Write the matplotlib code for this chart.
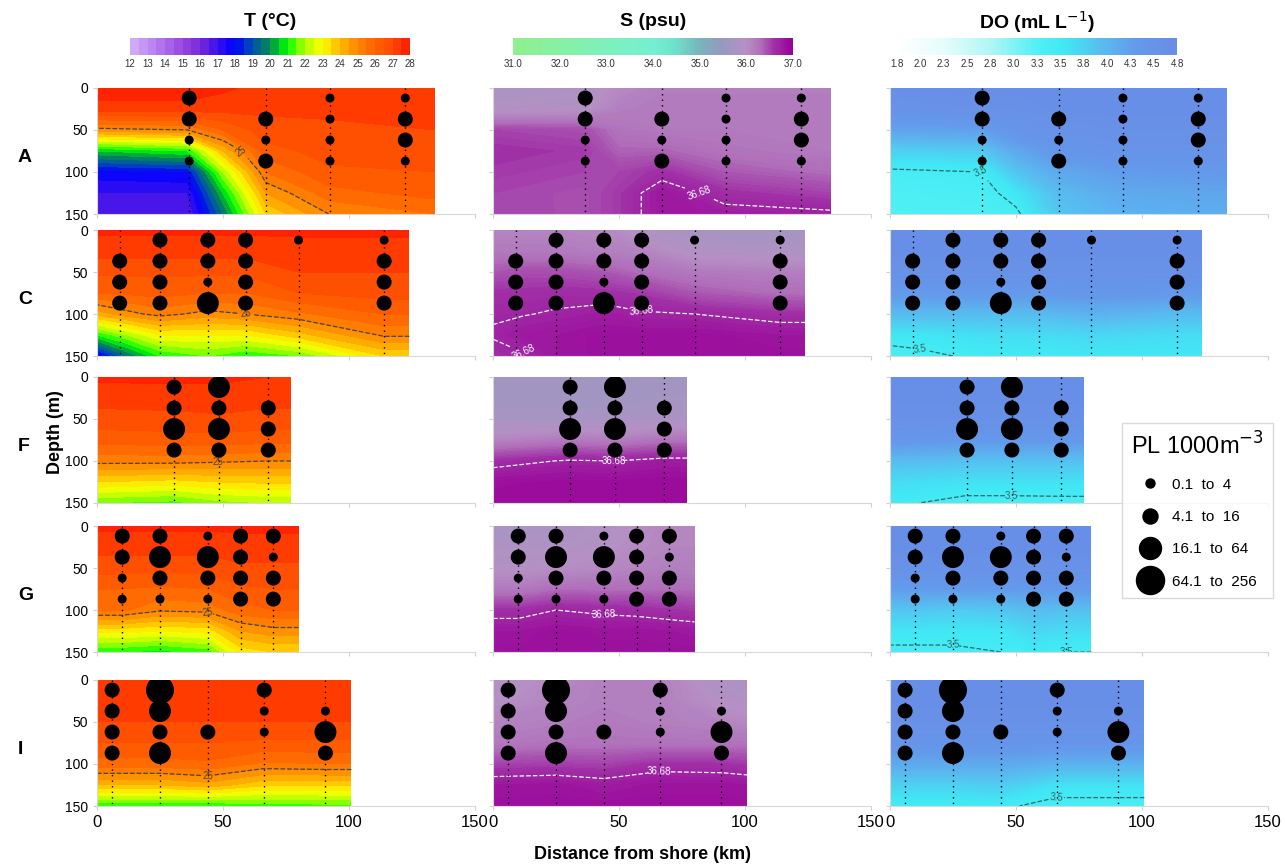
import numpy as np
import matplotlib.pyplot as plt
from matplotlib.colors import LinearSegmentedColormap
from matplotlib.lines import Line2D
from matplotlib.patches import Rectangle

plt.rcParams['font.family'] = ['Liberation Sans', 'DejaVu Sans']

# depth levels (m) of the gridded fields, and of the plankton samples
grid_depth = [0, 25, 50, 75, 100, 125, 150]
pl_depth = [12, 37, 62, 87]
pl_labels = ['0.1  to  4', '4.1  to  16', '16.1  to  64', '64.1  to  256']

# ---- transect A ----
nodes_A = [0, 36, 50, 67, 92, 134]
T_A = [[27.8, 27.3, 24.8, 20.5, 17.8, 17.0, 16.5],
       [27.8, 27.3, 25.0, 21.0, 18.0, 17.0, 16.5],
       [27.6, 27.2, 26.0, 24.0, 22.0, 20.5, 19.5],
       [27.3, 27.1, 26.8, 26.3, 25.5, 24.5, 23.5],
       [27.3, 27.1, 26.9, 26.7, 26.4, 25.8, 25.0],
       [27.3, 27.1, 27.0, 26.8, 26.5, 26.2, 25.5]]
S_A = [[35.8, 35.9, 36.5, 36.6, 36.55, 36.5, 36.5],
       [35.85, 35.95, 36.45, 36.55, 36.5, 36.45, 36.45],
       [36.05, 36.15, 36.25, 36.35, 36.5, 36.55, 36.55],
       [36.15, 36.2, 36.2, 36.35, 36.6, 36.8, 36.8],
       [36.15, 36.2, 36.2, 36.25, 36.4, 36.6, 36.75],
       [36.15, 36.2, 36.2, 36.2, 36.3, 36.5, 36.72]]
DO_A = [[4.7, 4.6, 4.25, 3.8, 3.45, 3.35, 3.3],
        [4.7, 4.65, 4.3, 3.85, 3.5, 3.4, 3.35],
        [4.7, 4.65, 4.5, 4.2, 3.9, 3.6, 3.45],
        [4.7, 4.7, 4.6, 4.45, 4.2, 4.0, 3.9],
        [4.7, 4.7, 4.65, 4.55, 4.35, 4.2, 4.1],
        [4.7, 4.7, 4.65, 4.55, 4.4, 4.25, 4.15]]
st_A = [36.6, 67, 92.5, 122.4]
pl_A = [[2, 2, 1, 1], [0, 2, 1, 2], [1, 1, 1, 1], [1, 2, 2, 1]]

# ---- transect C ----
nodes_C = [0, 12, 25, 44, 59, 80, 114, 124]
T_C = [[27.6, 27.2, 26.6, 26.0, 24.2, 21.0, 17.5],
       [27.6, 27.2, 26.6, 26.1, 24.8, 22.0, 19.5],
       [27.6, 27.2, 26.6, 26.2, 25.2, 23.0, 21.0],
       [27.6, 27.2, 26.6, 26.0, 24.8, 23.0, 21.5],
       [27.6, 27.2, 26.6, 26.0, 25.0, 23.0, 21.0],
       [27.6, 27.3, 27.0, 26.5, 25.4, 23.8, 21.5],
       [27.6, 27.3, 27.0, 26.7, 26.0, 25.1, 23.5],
       [27.6, 27.3, 27.0, 26.7, 26.0, 25.1, 23.5]]
S_C = [[36.1, 36.2, 36.4, 36.6, 36.66, 36.7, 36.6],
       [36.1, 36.2, 36.45, 36.6, 36.67, 36.78, 36.66],
       [36.1, 36.2, 36.45, 36.62, 36.7, 36.8, 36.8],
       [36.05, 36.15, 36.4, 36.6, 36.75, 36.85, 36.85],
       [35.9, 36.1, 36.3, 36.55, 36.7, 36.85, 36.85],
       [35.7, 35.9, 36.2, 36.4, 36.68, 36.85, 36.85],
       [35.7, 35.85, 36.15, 36.3, 36.6, 36.8, 36.85],
       [35.7, 35.85, 36.15, 36.3, 36.6, 36.8, 36.85]]
DO_C = [[4.7, 4.7, 4.6, 4.4, 4.0, 3.6, 3.4],
        [4.7, 4.7, 4.6, 4.4, 4.0, 3.6, 3.45],
        [4.7, 4.7, 4.6, 4.4, 4.0, 3.65, 3.5],
        [4.7, 4.7, 4.6, 4.4, 4.0, 3.7, 3.55],
        [4.7, 4.7, 4.6, 4.4, 4.0, 3.7, 3.55],
        [4.7, 4.7, 4.6, 4.45, 4.1, 3.75, 3.6],
        [4.7, 4.7, 4.6, 4.4, 4.0, 3.7, 3.6],
        [4.7, 4.7, 4.6, 4.4, 4.0, 3.7, 3.6]]
st_C = [9, 25, 44, 59, 80, 114]
pl_C = [[0, 2, 2, 2], [2, 2, 2, 2], [2, 2, 1, 3], [2, 2, 2, 2], [1, 0, 0, 0], [1, 2, 2, 2]]

# ---- transect F ----
nodes_F = [0, 30, 48, 68, 77]
T_F = [[27.6, 27.2, 26.8, 26.2, 25.2, 23.5, 21.5],
       [27.6, 27.3, 26.8, 26.3, 25.2, 23.3, 21.3],
       [27.6, 27.3, 26.9, 26.3, 25.1, 23.5, 21.8],
       [27.5, 27.2, 26.8, 26.2, 25.0, 23.6, 22.0],
       [27.5, 27.2, 26.8, 26.2, 25.0, 23.6, 22.0]]
S_F = [[35.65, 35.65, 35.75, 36.1, 36.6, 36.85, 36.9],
       [35.65, 35.65, 35.75, 36.2, 36.7, 36.88, 36.9],
       [35.65, 35.65, 35.75, 36.15, 36.68, 36.88, 36.9],
       [35.65, 35.7, 35.8, 36.25, 36.75, 36.9, 36.9],
       [35.65, 35.7, 35.8, 36.25, 36.75, 36.9, 36.9]]
DO_F = [[4.7, 4.7, 4.65, 4.45, 4.0, 3.7, 3.55],
        [4.7, 4.7, 4.65, 4.4, 3.95, 3.65, 3.42],
        [4.7, 4.7, 4.65, 4.4, 3.95, 3.65, 3.42],
        [4.7, 4.7, 4.65, 4.4, 3.95, 3.65, 3.43],
        [4.7, 4.7, 4.65, 4.4, 3.95, 3.65, 3.43]]
st_F = [30.6, 48.4, 68]
pl_F = [[2, 2, 3, 2], [3, 2, 3, 2], [0, 2, 2, 2]]

# ---- transect G ----
nodes_G = [0, 10, 25, 44, 57, 70, 80]
T_G = [[27.6, 27.2, 26.7, 26.0, 25.6, 23.2, 21.0],
       [27.6, 27.2, 26.7, 26.0, 25.6, 23.2, 21.0],
       [27.6, 27.2, 26.7, 25.9, 25.1, 23.0, 20.8],
       [27.6, 27.2, 26.7, 26.0, 25.2, 23.2, 21.2],
       [27.6, 27.3, 26.9, 26.4, 25.8, 24.5, 23.2],
       [27.6, 27.3, 26.9, 26.5, 26.0, 24.8, 23.5],
       [27.6, 27.3, 26.9, 26.5, 26.0, 24.8, 23.5]]
S_G = [[35.8, 35.85, 35.95, 36.2, 36.6, 36.8, 36.85],
       [35.8, 35.85, 35.95, 36.2, 36.6, 36.8, 36.85],
       [35.8, 35.85, 36.0, 36.3, 36.68, 36.85, 36.85],
       [35.9, 35.95, 36.05, 36.3, 36.64, 36.82, 36.85],
       [36.0, 36.05, 36.1, 36.3, 36.62, 36.82, 36.85],
       [36.1, 36.1, 36.15, 36.3, 36.58, 36.8, 36.85],
       [36.1, 36.1, 36.15, 36.3, 36.55, 36.78, 36.85]]
DO_G = [[4.7, 4.7, 4.6, 4.35, 3.9, 3.6, 3.45],
        [4.7, 4.7, 4.6, 4.35, 3.9, 3.6, 3.45],
        [4.7, 4.7, 4.6, 4.35, 3.85, 3.6, 3.45],
        [4.7, 4.7, 4.6, 4.35, 3.9, 3.6, 3.5],
        [4.7, 4.7, 4.6, 4.4, 4.0, 3.75, 3.55],
        [4.7, 4.7, 4.6, 4.4, 3.95, 3.7, 3.5],
        [4.7, 4.7, 4.6, 4.4, 3.95, 3.7, 3.5]]
st_G = [10, 25, 44, 57, 70]
pl_G = [[2, 2, 1, 1], [2, 3, 2, 1], [1, 3, 2, 1], [2, 2, 2, 2], [2, 1, 2, 2]]

# ---- transect I ----
nodes_I = [0, 25, 44, 66, 91, 101]
T_I = [[27.5, 27.3, 27.0, 26.5, 25.8, 24.0, 21.0],
       [27.5, 27.3, 27.0, 26.5, 25.8, 24.0, 21.0],
       [27.5, 27.3, 27.0, 26.5, 25.9, 24.3, 21.0],
       [27.5, 27.3, 27.0, 26.4, 25.4, 23.6, 21.2],
       [27.5, 27.3, 27.0, 26.4, 25.5, 23.6, 21.3],
       [27.5, 27.3, 27.0, 26.4, 25.5, 23.6, 21.3]]
S_I = [[35.85, 35.95, 36.1, 36.2, 36.5, 36.8, 36.85],
       [36.05, 36.1, 36.15, 36.25, 36.52, 36.82, 36.85],
       [36.15, 36.15, 36.2, 36.25, 36.5, 36.76, 36.85],
       [36.15, 36.15, 36.15, 36.25, 36.6, 36.82, 36.85],
       [35.85, 35.95, 36.1, 36.25, 36.58, 36.82, 36.85],
       [35.8, 35.9, 36.05, 36.25, 36.55, 36.8, 36.85]]
DO_I = [[4.7, 4.7, 4.65, 4.5, 4.2, 3.8, 3.5],
        [4.7, 4.7, 4.65, 4.5, 4.2, 3.8, 3.52],
        [4.7, 4.7, 4.65, 4.5, 4.2, 3.85, 3.55],
        [4.7, 4.7, 4.65, 4.5, 4.1, 3.65, 3.4],
        [4.7, 4.7, 4.65, 4.5, 4.1, 3.65, 3.4],
        [4.7, 4.7, 4.65, 4.5, 4.1, 3.65, 3.4]]
st_I = [6, 25, 44, 66.4, 90.7]
pl_I = [[2, 2, 2, 2], [4, 3, 2, 3], [0, 0, 2, 0], [2, 1, 1, 0], [0, 1, 3, 2]]

rows = [('A', nodes_A, T_A, S_A, DO_A, st_A, pl_A),
        ('C', nodes_C, T_C, S_C, DO_C, st_C, pl_C),
        ('F', nodes_F, T_F, S_F, DO_F, st_F, pl_F),
        ('G', nodes_G, T_G, S_G, DO_G, st_G, pl_G),
        ('I', nodes_I, T_I, S_I, DO_I, st_I, pl_I)]

# colour maps
def make_cmap(vmin, vmax, stops):
    return LinearSegmentedColormap.from_list(
        '', [((v - vmin) / (vmax - vmin), c) for v, c in stops])

cmap_T = make_cmap(12, 28, [(12, '#d4b0fa'), (13.5, '#b77ef0'), (15, '#9646e0'),
                            (16, '#7a2ad8'), (17, '#3a10f0'), (18, '#0000ff'),
                            (19, '#0050b0'), (20, '#008a50'), (21, '#00ff00'),
                            (22, '#aaff00'), (23, '#ffff00'), (24, '#ffbb00'),
                            (25, '#ff8800'), (26, '#ff6400'), (27, '#ff4a00'),
                            (28, '#ff1a00')])
cmap_S = make_cmap(31, 37, [(31, '#8ef08e'), (32, '#86f0a4'), (33, '#7ef0bc'),
                            (34, '#74f0d0'), (34.5, '#6ee0cc'), (35, '#78b4bc'),
                            (35.5, '#9898c0'), (36.0, '#b690c4'), (36.3, '#b070ba'),
                            (36.6, '#a030a6'), (37, '#990099')])
cmap_DO = make_cmap(1.8, 4.8, [(1.8, '#ffffff'), (2.3, '#e6fcfc'), (2.8, '#b0f6f6'),
                               (3.3, '#50f0f4'), (3.6, '#40e8f4'), (4.0, '#58bcf0'),
                               (4.4, '#6498ea'), (4.8, '#6a8ce6')])

cols = [dict(cmap=cmap_T, levels=np.arange(12, 28.01, 0.5), line=25, lc='#444444', fmt='%d'),
        dict(cmap=cmap_S, levels=np.linspace(31, 37, 181), line=36.68, lc='white', fmt='%.2f'),
        dict(cmap=cmap_DO, levels=np.linspace(1.8, 4.8, 181), line=3.5, lc='#2f6868', fmt='%.1f')]

pl_size = [0, 42, 117, 250, 408]

fig = plt.figure(figsize=(12.85, 8.65), dpi=100)
col_left = [0.0755, 0.3837, 0.6926]
col_w = 0.294
row_bottom = [0.7526, 0.5884, 0.4185, 0.2462, 0.0682]
row_h = 0.1457

mappables = [None, None, None]
for r, (name, nodes, T, S, DO, st, pl) in enumerate(rows):
    for c, field in enumerate([T, S, DO]):
        ax = fig.add_axes([col_left[c], row_bottom[r], col_w, row_h])
        opt = cols[c]
        X, Y = np.meshgrid(nodes, grid_depth)
        Z = np.array(field).T
        cf = ax.contourf(X, Y, Z, levels=opt['levels'], cmap=opt['cmap'],
                         antialiased=False)
        cf.set_clip_path(Rectangle((0, 0), nodes[-1], 150, transform=ax.transData))
        mappables[c] = cf
        cs = ax.contour(X, Y, Z, levels=[opt['line']], colors=opt['lc'],
                        linestyles='--', linewidths=0.9)
        ax.clabel(cs, fmt=opt['fmt'], fontsize=7)
        ax.vlines(st, 0, 150, colors='k', linestyles=(0, (1, 3)), linewidths=1, zorder=3)
        xs, ys, ss = [], [], []
        for x, cls in zip(st, pl):
            for d, k in zip(pl_depth, cls):
                if k > 0:
                    xs.append(x)
                    ys.append(d)
                    ss.append(pl_size[k])
        ax.scatter(xs, ys, s=ss, c='k', zorder=4, linewidths=0)
        ax.set_xlim(0, 150)
        ax.set_ylim(150, 0)
        ax.set_xticks([0, 50, 100, 150])
        ax.set_yticks([0, 50, 100, 150])
        for sp in ['top', 'right']:
            ax.spines[sp].set_visible(False)
        for sp in ['left', 'bottom']:
            ax.spines[sp].set_color('#d8d8d8')
        ax.tick_params(colors='#d0d0d0', length=3, labelcolor='black')
        ax.tick_params(axis='x', labelsize=12)
        ax.tick_params(axis='y', labelsize=10)
        if r < 4:
            ax.set_xticklabels([])
        if c > 0:
            ax.set_yticklabels([])
        else:
            fig.text(0.014, row_bottom[r] + row_h * 0.45, name, fontsize=14,
                     fontweight='bold', ha='left', va='center')

# colour bars and titles
titles = ['T (°C)', 'S (psu)', 'DO (mL L$^{-1}$)']
cb_left = [0.1012, 0.3992, 0.698]
cb_ticks = [np.arange(12, 29), np.arange(31, 38), np.linspace(1.8, 4.8, 13)]
cb_labels = [[str(v) for v in range(12, 29)],
             ['%.1f' % v for v in range(31, 38)],
             ['1.8', '2.0', '2.3', '2.5', '2.8', '3.0', '3.3', '3.5', '3.8',
              '4.0', '4.3', '4.5', '4.8']]
for c in range(3):
    cax = fig.add_axes([cb_left[c], 0.9364, 0.218, 0.0197])
    cb = fig.colorbar(mappables[c], cax=cax, orientation='horizontal')
    cb.outline.set_visible(False)
    cb.set_ticks(cb_ticks[c])
    cb.set_ticklabels(cb_labels[c])
    cax.tick_params(length=0, labelsize=7, pad=3, labelcolor='#333333')
    fig.text(cb_left[c] + 0.109, 0.975, titles[c], fontsize=14, fontweight='bold',
             ha='center', va='center')

fig.text(0.043, 0.50, 'Depth (m)', rotation=90, fontsize=13, fontweight='bold',
         ha='center', va='center')
fig.text(0.5, 0.012, 'Distance from shore (km)', fontsize=13, fontweight='bold',
         ha='center', va='center')

handles = [Line2D([], [], marker='o', color='k', linestyle='none',
                  markersize=np.sqrt(pl_size[k])) for k in range(1, 5)]
leg = fig.legend(handles, pl_labels, title='PL 1000m$^{-3}$', loc='upper left',
                 bbox_to_anchor=(0.867, 0.52), frameon=True, fancybox=False,
                 fontsize=11, title_fontsize=17, labelspacing=1.2,
                 handlelength=1.6, handletextpad=0.6, borderpad=0.6)
leg.get_frame().set_edgecolor('#d0d0d0')
leg.get_frame().set_linewidth(1)

fig.savefig('out.png', dpi=100)
